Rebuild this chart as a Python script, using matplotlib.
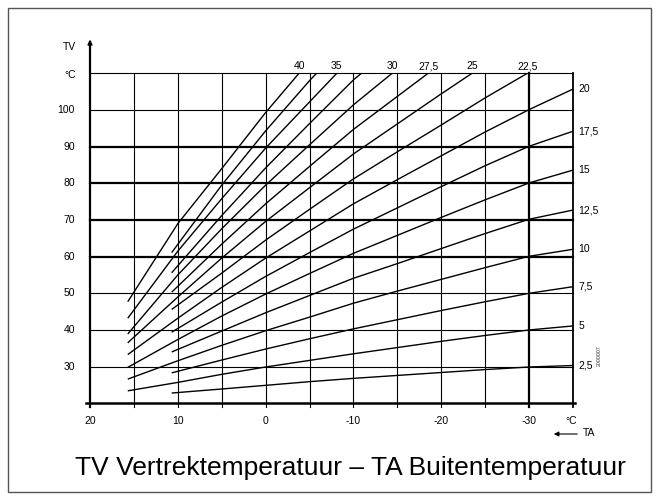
import matplotlib
matplotlib.use("Agg")
import matplotlib.pyplot as plt
from matplotlib.patches import Rectangle, FancyArrowPatch

plt.rcParams['font.family'] = ['Liberation Sans', 'DejaVu Sans']

# ---------------- data ----------------
curve_labels = ["2,5", "5", "7,5", "10", "12,5", "15", "17,5", "20",
                "22,5", "25", "27,5", "30", "32,5", "35", "37,5", "40"]

curve_ta = [
    [10.7, 5, 0, -5, -10, -15, -20, -25, -30, -35],
    [15.7, 10, 5, 0, -5, -10, -15, -20, -25, -30, -35],
    [10.7, 5, 0, -5, -10, -15, -20, -25, -30, -35],
    [15.7, 10, 5, 0, -5, -10, -15, -20, -25, -30, -35],
    [10.7, 5, 0, -5, -10, -15, -20, -25, -30, -35],
    [15.7, 10, 5, 0, -5, -10, -15, -20, -25, -30, -35],
    [10.7, 5, 0, -5, -10, -15, -20, -25, -30, -35],
    [15.7, 10, 5, 0, -5, -10, -15, -20, -25, -30, -35],
    [10.7, 5, 0, -5, -10, -15, -20, -25, -29.8],
    [15.7, 10, 5, 0, -5, -10, -15, -20, -23.5],
    [10.7, 5, 0, -5, -10, -15, -18.5],
    [15.7, 10, 5, 0, -5, -10, -14.4],
    [10.7, 5, 0, -5, -10, -10.9],
    [15.7, 10, 5, 0, -5, -8.1],
    [10.7, 5, 0, -5, -5.8],
    [15.7, 10, 5, 0, -3.8],
]
curve_tv = [
    [22.8, 23.9, 24.9, 25.9, 26.8, 27.6, 28.4, 29.2, 29.9, 30.3],
    [23.4, 25.7, 27.9, 29.9, 31.7, 33.5, 35.2, 36.9, 38.5, 40.0, 41.1],
    [28.3, 31.8, 34.8, 37.6, 40.3, 42.8, 45.3, 47.7, 50.0, 51.8],
    [26.6, 31.6, 35.8, 39.8, 43.5, 47.3, 50.6, 53.8, 57.0, 60.1, 62.0],
    [34.0, 39.7, 44.7, 49.4, 54.1, 58.1, 62.2, 66.3, 70.2, 72.7],
    [29.8, 37.4, 43.8, 49.8, 55.4, 60.9, 65.8, 70.7, 75.5, 80.1, 83.6],
    [39.4, 47.6, 54.6, 61.1, 67.5, 73.3, 79.1, 84.8, 90.1, 94.2],
    [33.3, 43.2, 51.6, 59.6, 67.0, 74.4, 81.0, 87.5, 94.0, 100.1, 105.7],
    [45.6, 55.5, 64.5, 72.9, 81.2, 88.6, 95.9, 103.3, 110.0],
    [36.5, 49.0, 59.6, 69.6, 78.8, 88.0, 96.2, 104.4, 110.0],
    [50.3, 63.4, 74.4, 84.6, 94.7, 103.7, 110.0],
    [38.9, 55.0, 67.6, 79.5, 90.5, 101.4, 110.0],
    [55.6, 71.2, 84.2, 96.3, 108.2, 110.0],
    [43.2, 61.5, 75.8, 89.6, 102.2, 110.0],
    [61.1, 79.5, 94.3, 108.0, 110.0],
    [47.7, 69.0, 84.0, 99.3, 110.0],
]
right_labels = ["2,5", "5", "7,5", "10", "12,5", "15", "17,5", "20"]
top_labels = ["22,5", "25", "27,5", "30", "35", "40"]

x_ticks = [20, 10, 0, -10, -20, -30]
x_ticklabels = ["20", "10", "0", "-10", "-20", "-30"]
y_ticks = [30, 40, 50, 60, 70, 80, 90, 100]
thin_v = [15, 10, 5, 0, -5, -10, -15, -20, -25]
thick_v = [-30]
thin_h = [30, 40, 50, 100, 110]
thick_h = [60, 70, 80, 90]
title = "TV Vertrektemperatuur \u2013 TA Buitentemperatuur"

# ---------------- layout ----------------
W, H = 659, 500
fig = plt.figure(figsize=(W / 100, H / 100), dpi=100)
X0, X1 = 90, 573       # pixel positions of TA=20 and TA=-35
Y0, Y1 = 403.3, 73.3   # pixel positions of TV=20 and TV=110
ax = fig.add_axes([X0 / W, 1 - Y0 / H, (X1 - X0) / W, (Y0 - Y1) / H])
ax.set_xlim(20, -35)
ax.set_ylim(20, 110)
ax.axis('off')

def fp(px, py):
    return px / W, 1 - py / H

# outer frame
fig.patches.append(Rectangle(fp(8, 492), (651 - 8) / W, (492 - 8) / H,
                             transform=fig.transFigure, fill=False,
                             edgecolor='#555555', linewidth=1.0))

# grid
for v in thin_v:
    ax.plot([v, v], [19.0, 110], color='black', lw=0.8, clip_on=False)
for v in thick_v:
    ax.plot([v, v], [19.0, 110], color='black', lw=1.6, clip_on=False)
ax.plot([-35, -35], [19.0, 110], color='black', lw=1.3, clip_on=False)
for h in thin_h:
    ax.plot([20, -35], [h, h], color='black', lw=0.8, clip_on=False)
for h in thick_h:
    ax.plot([20, -35], [h, h], color='black', lw=1.6, clip_on=False)

# axes lines
ax.plot([20.5, -35.2], [20, 20], color='black', lw=1.8, clip_on=False)
ax.plot([20, 20], [19.0, 118.5], color='black', lw=1.6, clip_on=False)
ax.annotate('', xy=(20, 119.2), xytext=(20, 116.5),
            arrowprops=dict(arrowstyle='-|>', color='black', lw=1.0,
                            mutation_scale=7, shrinkA=0, shrinkB=0),
            annotation_clip=False)

# curves
for ta, tv in zip(curve_ta, curve_tv):
    ax.plot(ta, tv, color='black', lw=1.0, solid_capstyle='butt')

fs = 7.5
# y tick labels
for y in y_ticks:
    px, py = ax.transData.transform((20, y))
    fig.text(75 / W, py / H, str(y), fontsize=fs, ha='right', va='center')
fig.text(*fp(70, 75), "°C", fontsize=fs, ha='center', va='center')
fig.text(*fp(69, 47), "TV", fontsize=fs, ha='center', va='center')

# x tick labels
for x, lab in zip(x_ticks, x_ticklabels):
    px, py = ax.transData.transform((x, 20))
    fig.text(px / W, 1 - 421 / H, lab, fontsize=fs, ha='center', va='center')
fig.text(*fp(571, 421), "°C", fontsize=fs, ha='center', va='center')
fig.text(*fp(589, 433), "TA", fontsize=fs, ha='center', va='center')
fig.add_artist(FancyArrowPatch(fp(580, 434), fp(551, 434),
                               transform=fig.transFigure,
                               arrowstyle='-|>', mutation_scale=7,
                               color='black', lw=0.8))

# right labels (curve ends)
for lab in right_labels:
    i = curve_labels.index(lab)
    ax.annotate(lab, xy=(curve_ta[i][-1], curve_tv[i][-1]), xytext=(4, 0),
                textcoords='offset points', fontsize=fs, ha='left',
                va='center', annotation_clip=False)

# top labels
for lab in top_labels:
    i = curve_labels.index(lab)
    ax.annotate(lab, xy=(curve_ta[i][-1], 110), xytext=(0, 1.5),
                textcoords='offset points', fontsize=fs, ha='center',
                va='bottom', annotation_clip=False)

# small code
fig.text(*fp(599, 356), "2000007", fontsize=3.8, rotation=90,
         ha='center', va='center', color='#333333')

# title
fig.text(*fp(350, 468), title, fontsize=19, ha='center', va='center')

fig.savefig("out.png", dpi=100)
